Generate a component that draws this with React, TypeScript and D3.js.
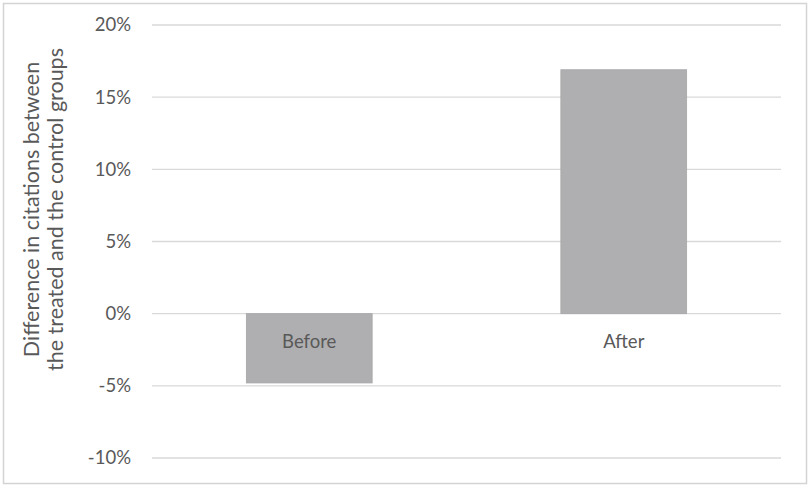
import React, { useRef, useEffect } from 'react';
import * as d3 from 'd3';

const categories = ['Before', 'After'];
const values = [-0.048, 0.169];
const yTicks = [-0.1, -0.05, 0, 0.05, 0.1, 0.15, 0.2];
const yTitle = ['Difference in citations between', 'the treated and the control groups'];

const width = 810;
const height = 488;
const FONT = 'Lato, "Open Sans", sans-serif';
const textColor = '#595959';

const App: React.FC = () => {
  const svgRef = useRef<SVGSVGElement>(null);

  useEffect(() => {
    if (!svgRef.current) return;
    const svg = d3.select(svgRef.current);
    svg.selectAll('*').remove();

    const margin = { top: 25, right: 29, bottom: 30, left: 152 };
    const w = width - margin.left - margin.right;

    svg.append('rect')
      .attr('x', 3.5).attr('y', 3.5)
      .attr('width', 803).attr('height', 480)
      .attr('fill', '#fff')
      .attr('stroke', '#d4d4d4')
      .attr('stroke-width', 1.5);

    const g = svg.append('g')
      .attr('transform', `translate(${margin.left},0)`);

    const x = d3.scaleBand()
      .domain(categories)
      .range([0, w])
      .paddingInner(0.6)
      .paddingOuter(0.3);

    const y = d3.scaleLinear()
      .domain([-0.1, 0.2])
      .range([458, 25]);

    // percent with a plain hyphen for negatives, like the original
    const pct = (d: number) => `${Math.round(d * 100)}%`;

    // gridlines
    g.selectAll('.grid')
      .data(yTicks)
      .enter()
      .append('line')
      .attr('x1', 0)
      .attr('x2', w)
      .attr('y1', d => y(d))
      .attr('y2', d => y(d))
      .attr('stroke', '#d9d9d9')
      .attr('stroke-width', 1.3);

    // tick labels
    g.selectAll('.tick-label')
      .data(yTicks)
      .enter()
      .append('text')
      .attr('x', -21)
      .attr('y', d => y(d))
      .attr('dy', '0.35em')
      .attr('text-anchor', 'end')
      .attr('font-family', FONT)
      .attr('font-size', '18.5px')
      .attr('fill', textColor)
      .text(d => pct(d));

    // bars
    g.selectAll('.bar')
      .data(values)
      .enter()
      .append('rect')
      .attr('x', (d, i) => x(categories[i])!)
      .attr('y', d => y(Math.max(0, d)))
      .attr('width', x.bandwidth())
      .attr('height', d => Math.abs(y(d) - y(0)))
      .attr('fill', '#afaeb0')
      .attr('stroke', '#a7a6a8')
      .attr('stroke-width', 0.8);

    // category labels
    g.selectAll('.cat-label')
      .data(categories)
      .enter()
      .append('text')
      .attr('x', d => x(d)! + x.bandwidth() / 2)
      .attr('y', y(0) + 28)
      .attr('dy', '0.35em')
      .attr('text-anchor', 'middle')
      .attr('font-family', FONT)
      .attr('font-size', '18.5px')
      .attr('fill', textColor)
      .text(d => d);

    // y title
    const title = svg.append('text')
      .attr('transform', `translate(0,${(y(0.2) + y(-0.1)) / 2 - 32}) rotate(-90)`)
      .attr('text-anchor', 'middle')
      .attr('font-family', FONT)
      .attr('font-size', '21.5px')
      .attr('fill', textColor);
    yTitle.forEach((line, i) => {
      title.append('tspan')
        .attr('x', 0)
        .attr('y', 39 + i * 24)
        .text(line);
    });
  }, []);

  return (
    <svg
      ref={svgRef}
      width={width}
      height={height}
      style={{ position: 'absolute', left: 0, top: 0 }}
    />
  );
};

export default App;
